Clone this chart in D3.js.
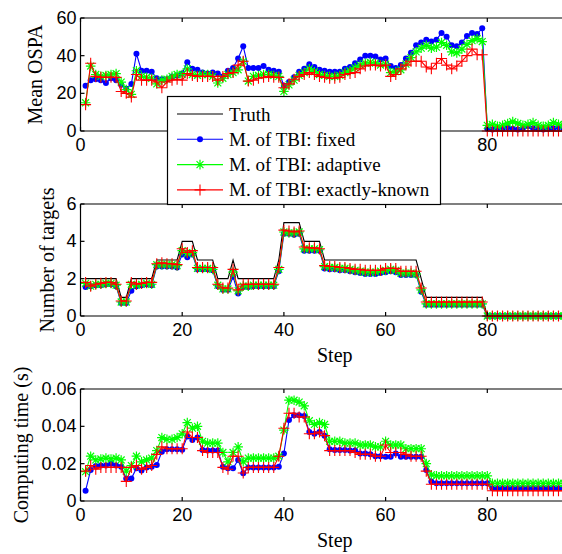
<!DOCTYPE html>
<html><head><meta charset="utf-8">
<script src="https://cdn.jsdelivr.net/npm/d3@7"></script>
<style>body{margin:0;background:#fff}svg{display:block}</style>
</head><body>
<script>
// ---------------- DATA ----------------
const steps = d3.range(1, 101);
const xTicks = [0, 20, 40, 60, 80, 100];
const xTickLabelsShown = [0, 20, 40, 60, 80];      // 100 lies outside the visible picture
const xTickLabelsTop = [0, 80];                     // the others are hidden behind the legend

// Panel 1: Mean OSPA
const ospaTicks = [0, 20, 40, 60];
const ospaFixed = [24,27,27.5,27,25.5,28,27,24.5,22.5,25, 41,32,32,31.5,28,27.5,27.5,29,29.5,30.5,
 36.5,33,32.5,31,30.5,31,30.5,29,32,33.5, 38.5,45,33.5,33.5,33.5,34.5,32.5,32,31.5,24,
 26,28.5,31.5,33,35.5,34,32.5,32,31.5,31.5, 31.5,33,34,36,38,40,40,39.5,38,38.5,
 34.5,33.5,35,38.5,41.5,45.5,47,48.5,47.5,48.5, 52,50,45.5,45,47,50.5,52,51.5,54.5,1.2,
 0.8,1.5,1,2,1.2,0.8,1.5,2.5,1.5,1, 0.8,1.2,1.5,2,1.2,1,0.8,1.5,1.2,1];
const ospaAdaptive = [15,34.5,30,29,29.5,30,30.5,26,22,19.5, 32,29,28.5,28,25,27,27.5,29,30,30,
 33,30,29.5,30,30,29,25.5,28,30,31, 32.5,37,26.5,29,29.5,30,30,29.5,29,21,
 24.5,27,29.5,31,33,31.5,30,29.5,29,29, 29.5,31,32,33.5,35,36,36.5,36,35,35.5,
 31,31.5,32.5,35.5,39,42,44,45.5,44,44.5, 47,45.5,42,41.5,43.5,46,48,49,47.5,3,
 3.5,2.5,3,4,5,4,3,3.5,4.5,3, 2.5,3,4.5,3.5,3,2.5,3,3.5,3,2.5];
const ospaExact = [14,36,29,28.5,28.5,28.5,28.5,21,20,18, 30,27,27,27,26,23,26,27,27.5,27,
 30.5,29.5,29,29,29,29,27,29,30.5,31, 35,37,26.5,27,28,28.5,29,28.5,28.5,23,
 25,27.5,29,30,31,30,29,28.5,28,28, 28.5,30,30.5,31,33,34.5,35,35,34.5,35,
 29,30,33,35,37,37,37,34,33,36, 38.5,35,33,34.5,37,40,43.5,40.5,40.5,0,
 0,0,0,0,0,0,0,0,0,0, 0,0,0,0,0,0,0,0,0,0];

// Panel 2: Number of targets
const numTicks = [0, 2, 4, 6];
const numTruth = [2,2,2,2,2,2,2,1,1,2, 2,2,2,2,3,3,3,3,3,4, 4,4,3,3,3,3,2,2,2,3, 2,2,2,2,2,2,2,2,3,5,
 5,5,5,4,4,4,4,3,3,3, 3,3,3,3,3,3,3,3,3,3, 3,3,3,3,3,3,2,1,1,1, 1,1,1,1,1,1,1,1,1,0,
 0,0,0,0,0,0,0,0,0,0, 0,0,0,0,0,0,0,0,0,0];
const numFixed = [1.55,1.6,1.65,1.65,1.7,1.7,1.6,0.7,0.7,1.35, 1.6,1.65,1.7,1.65,2.65,2.65,2.65,2.65,2.6,3.3,
 3.15,3.3,2.5,2.5,2.5,2.45,1.6,1.4,1.4,2.1, 1.2,1.55,1.55,1.6,1.6,1.6,1.6,1.6,2.4,4.4,
 4.4,4.35,4.4,3.5,3.5,3.5,3.5,2.55,2.5,2.5, 2.45,2.45,2.4,2.35,2.3,2.25,2.25,2.25,2.3,2.35,
 2.4,2.35,2.2,2.2,2.2,2.2,1.3,0.6,0.6,0.6, 0.6,0.6,0.6,0.6,0.6,0.6,0.6,0.6,0.6,0,
 0,0,0,0,0,0,0,0,0,0, 0,0,0,0,0,0,0,0,0,0];
const numAdaptive = [1.75,1.6,1.7,1.7,1.75,1.75,1.65,0.75,0.75,1.7, 1.65,1.7,1.75,1.7,2.75,2.75,2.75,2.75,2.7,3.5,
 3.35,3.4,2.55,2.55,2.55,2.5,1.65,1.45,1.45,2.35, 1.35,1.6,1.6,1.65,1.65,1.65,1.65,1.65,2.5,4.5,
 4.45,4.45,4.5,3.6,3.6,3.6,3.55,2.65,2.6,2.6, 2.55,2.55,2.5,2.45,2.4,2.35,2.35,2.35,2.4,2.45,
 2.5,2.45,2.3,2.3,2.3,2.25,1.4,0.65,0.65,0.65, 0.65,0.65,0.65,0.65,0.65,0.65,0.65,0.65,0.65,0,
 0,0,0,0,0,0,0,0,0,0, 0,0,0,0,0,0,0,0,0,0];
const numExact = [1.8,1.6,1.7,1.75,1.8,1.8,1.7,0.8,0.8,1.8, 1.7,1.75,1.8,1.8,2.8,2.85,2.8,2.8,2.75,3.6,
 3.4,3.5,2.6,2.6,2.6,2.6,1.7,1.5,1.5,2.5, 1.4,1.7,1.7,1.7,1.7,1.7,1.7,1.7,2.6,4.6,
 4.55,4.5,4.55,3.7,3.65,3.65,3.6,2.7,2.65,2.65, 2.6,2.6,2.55,2.5,2.5,2.45,2.45,2.45,2.45,2.55,
 2.55,2.55,2.4,2.4,2.4,2.4,1.5,0.75,0.75,0.75, 0.75,0.75,0.75,0.75,0.75,0.75,0.75,0.75,0.75,0,
 0,0,0,0,0,0,0,0,0,0, 0,0,0,0,0,0,0,0,0,0];

// Panel 3: Computing time (s)
const timeTicks = [0, 0.02, 0.04, 0.06];
const timeTickLabels = ["0", "0.02", "0.04", "0.06"];
const timeFixed = [0.0055,0.0166,0.0188,0.019,0.019,0.020,0.019,0.0184,0.012,0.012,
 0.0175,0.0163,0.018,0.0184,0.0193,0.0264,0.0277,0.0277,0.0277,0.0275,
 0.0345,0.0327,0.034,0.0273,0.027,0.027,0.027,0.0184,0.0175,0.0175,
 0.022,0.0148,0.018,0.018,0.018,0.018,0.018,0.018,0.0184,0.0255,
 0.0434,0.046,0.046,0.0455,0.037,0.036,0.037,0.035,0.0277,0.0273,
 0.0273,0.0273,0.027,0.027,0.0255,0.0255,0.025,0.024,0.024,0.0237,
 0.0237,0.0255,0.0237,0.0237,0.0237,0.0237,0.0237,0.0166,0.0104,0.0095,
 0.0095,0.0095,0.0095,0.0095,0.0095,0.0095,0.0095,0.0095,0.0095,0.0095,
 0.0068,0.0068,0.0068,0.0068,0.0068,0.0068,0.0068,0.0068,0.0068,0.0068,
 0.0068,0.0068,0.0068,0.0068,0.0068,0.0068,0.0068,0.0068,0.0068,0.0068];
const timeAdaptive = [0.0157,0.024,0.022,0.0225,0.023,0.0225,0.023,0.022,0.016,0.019,
 0.024,0.021,0.022,0.023,0.027,0.034,0.033,0.033,0.034,0.036,
 0.042,0.039,0.040,0.032,0.031,0.031,0.031,0.026,0.021,0.026,
 0.029,0.021,0.023,0.023,0.023,0.023,0.023,0.023,0.024,0.038,
 0.054,0.054,0.053,0.051,0.043,0.041,0.042,0.041,0.032,0.032,
 0.032,0.031,0.031,0.031,0.030,0.030,0.030,0.029,0.029,0.032,
 0.030,0.030,0.030,0.028,0.028,0.028,0.028,0.020,0.014,0.0135,
 0.0135,0.0135,0.0135,0.0135,0.0135,0.0135,0.0135,0.0135,0.0135,0.0135,
 0.0095,0.0095,0.0095,0.0095,0.0095,0.0095,0.0095,0.0095,0.0095,0.0095,
 0.0095,0.0095,0.0095,0.0095,0.0095,0.0095,0.0095,0.0095,0.0095,0.0095];
const timeExact = [0.016,0.019,0.017,0.018,0.018,0.018,0.018,0.018,0.0105,0.018,
 0.019,0.017,0.018,0.019,0.025,0.029,0.028,0.028,0.028,0.028,
 0.037,0.034,0.034,0.027,0.026,0.026,0.026,0.018,0.017,0.024,
 0.024,0.015,0.018,0.018,0.018,0.018,0.018,0.018,0.024,0.039,
 0.047,0.047,0.045,0.045,0.036,0.036,0.037,0.035,0.027,0.027,
 0.027,0.027,0.027,0.026,0.025,0.025,0.025,0.024,0.024,0.030,
 0.026,0.026,0.026,0.025,0.024,0.024,0.024,0.016,0.009,0.009,
 0.009,0.009,0.009,0.009,0.009,0.009,0.009,0.009,0.009,0.009,
 0.0055,0.0055,0.0055,0.0055,0.0055,0.0055,0.0055,0.0055,0.0055,0.0055,
 0.0055,0.0055,0.0055,0.0055,0.0055,0.0055,0.0055,0.0055,0.0055,0.0055];

const legendLabels = ["Truth", "M. of TBI: fixed", "M. of TBI: adaptive", "M. of TBI: exactly-known"];
const seriesColors = ["#000000", "#0000ff", "#00ff00", "#ff0000"];

// ---------------- DRAW ----------------
const W = 562, H = 554;
const svg = d3.select("body").append("svg").attr("width", W).attr("height", H);
const x = d3.scaleLinear().domain([0, 100]).range([80.5, 589]);
const SANS = "'Liberation Sans', Arial, sans-serif";
const SERIF = "'Liberation Serif', 'Times New Roman', serif";

function marker(g, kind, cx, cy, color) {
  if (kind === "dot") {
    g.append("circle").attr("cx", cx).attr("cy", cy).attr("r", 3).attr("fill", color);
  } else if (kind === "star") {
    const r = 4.8, d = r * 0.72;
    const p = `M${cx-r},${cy}L${cx+r},${cy}M${cx},${cy-r}L${cx},${cy+r}M${cx-d},${cy-d}L${cx+d},${cy+d}M${cx-d},${cy+d}L${cx+d},${cy-d}`;
    g.append("path").attr("d", p).attr("stroke", color).attr("stroke-width", 1.2).attr("fill", "none");
  } else if (kind === "plus") {
    const r = 5.5;
    const p = `M${cx-r},${cy}L${cx+r},${cy}M${cx},${cy-r}L${cx},${cy+r}`;
    g.append("path").attr("d", p).attr("stroke", color).attr("stroke-width", 1.1).attr("fill", "none");
  }
}

function panel(cfg) {
  const y = d3.scaleLinear().domain(cfg.yDomain).range([cfg.bottom, cfg.top]);
  const g = svg.append("g");
  const line = d3.line().x((d, i) => x(steps[i])).y(d => y(d));
  cfg.series.forEach(s => {
    g.append("path").datum(s.values).attr("d", line).attr("fill", "none")
      .attr("stroke", s.color).attr("stroke-width", 1.1);
    if (s.marker) {
      const mg = g.append("g");
      s.values.forEach((v, i) => marker(mg, s.marker, x(steps[i]), y(v), s.color));
    }
  });
  const ax = svg.append("g").attr("stroke", "#000").attr("fill", "none").attr("stroke-width", 1.2);
  ax.append("line").attr("x1", x(0)).attr("x2", x(100)).attr("y1", cfg.top).attr("y2", cfg.top);
  ax.append("line").attr("x1", x(0)).attr("x2", x(100)).attr("y1", cfg.bottom).attr("y2", cfg.bottom);
  ax.append("line").attr("x1", x(0)).attr("x2", x(0)).attr("y1", cfg.top).attr("y2", cfg.bottom);
  ax.append("line").attr("x1", x(100)).attr("x2", x(100)).attr("y1", cfg.top).attr("y2", cfg.bottom);
  xTicks.forEach(t => {
    ax.append("line").attr("x1", x(t)).attr("x2", x(t)).attr("y1", cfg.bottom).attr("y2", cfg.bottom - 4);
    ax.append("line").attr("x1", x(t)).attr("x2", x(t)).attr("y1", cfg.top).attr("y2", cfg.top + 4);
  });
  cfg.xLabels.forEach(t => {
    svg.append("text").attr("x", x(t)).attr("y", cfg.bottom + 14).attr("text-anchor", "middle")
      .attr("dominant-baseline", "central").attr("font-family", SANS).attr("font-size", 18).text(t);
  });
  cfg.yTicks.forEach((t, i) => {
    ax.append("line").attr("x1", x(0)).attr("x2", x(0) + 4).attr("y1", y(t)).attr("y2", y(t));
    svg.append("text").attr("x", x(0) - 4).attr("y", y(t)).attr("text-anchor", "end")
      .attr("dominant-baseline", "central").attr("font-family", SANS).attr("font-size", 18)
      .text(cfg.yLabels ? cfg.yLabels[i] : t);
  });
  svg.append("text").attr("transform", `translate(${cfg.ylabelX},${(cfg.top + cfg.bottom) / 2}) rotate(-90)`)
    .attr("text-anchor", "middle").attr("dominant-baseline", "central")
    .attr("font-family", SERIF).attr("font-size", 20).text(cfg.ylabel);
  if (cfg.xlabel) {
    svg.append("text").attr("x", (x(0) + x(100)) / 2).attr("y", cfg.bottom + 39).attr("text-anchor", "middle")
      .attr("dominant-baseline", "central").attr("font-family", SERIF).attr("font-size", 20).text(cfg.xlabel);
  }
}

panel({ top: 18, bottom: 131, yDomain: [0, 60], yTicks: ospaTicks, xLabels: xTickLabelsTop,
  ylabel: "Mean OSPA", ylabelX: 35,
  series: [
    { values: ospaFixed, color: seriesColors[1], marker: "dot" },
    { values: ospaAdaptive, color: seriesColors[2], marker: "star" },
    { values: ospaExact, color: seriesColors[3], marker: "plus" }
  ] });
panel({ top: 204, bottom: 316, yDomain: [0, 6], yTicks: numTicks, xLabels: xTickLabelsShown,
  ylabel: "Number of targets", ylabelX: 47, xlabel: "Step",
  series: [
    { values: numTruth, color: seriesColors[0], marker: null },
    { values: numFixed, color: seriesColors[1], marker: "dot" },
    { values: numAdaptive, color: seriesColors[2], marker: "star" },
    { values: numExact, color: seriesColors[3], marker: "plus" }
  ] });
panel({ top: 389, bottom: 501, yDomain: [0, 0.06], yTicks: timeTicks, yLabels: timeTickLabels,
  xLabels: xTickLabelsShown, ylabel: "Computing time (s)", ylabelX: 21, xlabel: "Step",
  series: [
    { values: timeFixed, color: seriesColors[1], marker: "dot" },
    { values: timeAdaptive, color: seriesColors[2], marker: "star" },
    { values: timeExact, color: seriesColors[3], marker: "plus" }
  ] });

// legend
const lg = svg.append("g");
lg.append("rect").attr("x", 167.5).attr("y", 96.5).attr("width", 273).attr("height", 108)
  .attr("fill", "#fff").attr("stroke", "#000").attr("stroke-width", 1.2);
const kinds = [null, "dot", "star", "plus"];
legendLabels.forEach((lab, i) => {
  const cy = 114 + i * 25.3;
  lg.append("line").attr("x1", 177).attr("x2", 223).attr("y1", cy).attr("y2", cy)
    .attr("stroke", seriesColors[i]).attr("stroke-width", 1.1);
  if (kinds[i]) marker(lg, kinds[i], 200, cy, seriesColors[i]);
  lg.append("text").attr("x", 229).attr("y", cy).attr("dominant-baseline", "central")
    .attr("font-family", SERIF).attr("font-size", 19).text(lab);
});
</script>
</body></html>
